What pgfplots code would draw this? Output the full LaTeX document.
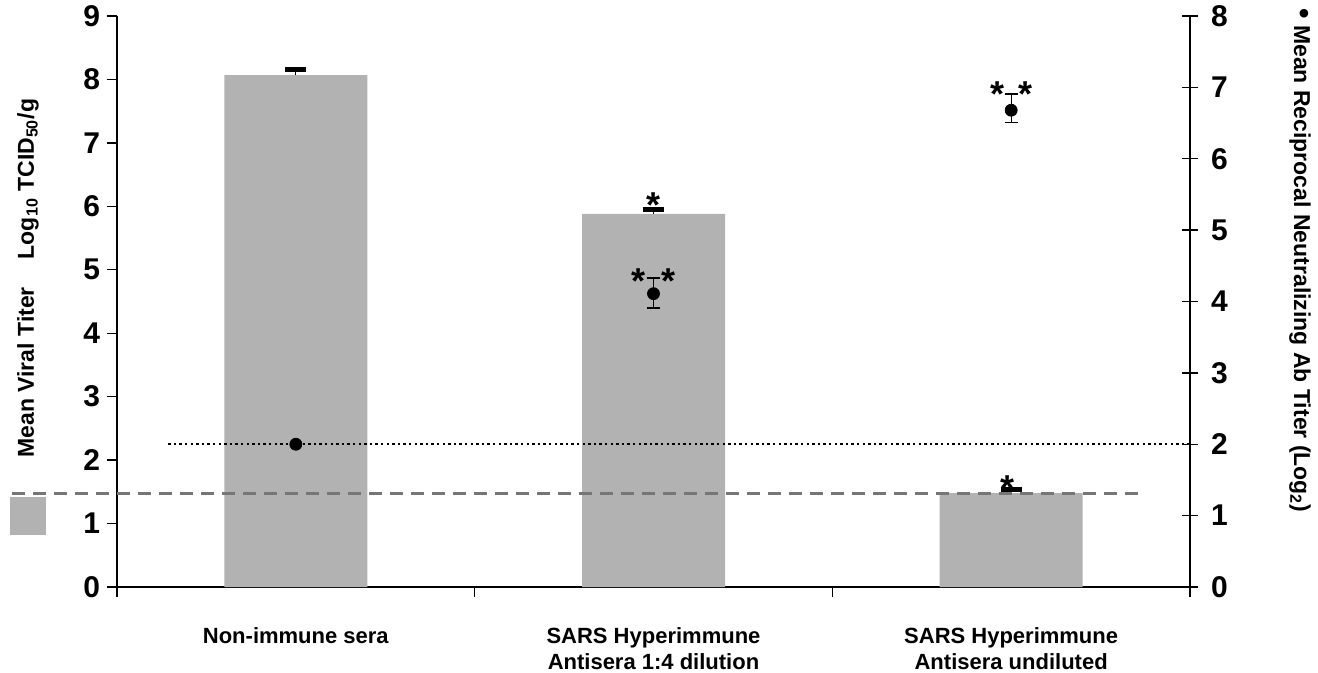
\documentclass[border=0pt]{standalone}
\usepackage{pgfplots}
\pgfplotsset{compat=1.18}
\usepackage{fontspec}
\setmainfont{Liberation Sans}
\definecolor{barcol}{RGB}{178,178,178}
\definecolor{dashcol}{RGB}{118,118,118}
\pgfplotstableread{
x y err
0.5 8.07 0.09
1.5 5.88 0.07
2.5 1.48 0.06
}\bartable
\tikzset{ast/.style={font=\fontsize{18bp}{18bp}\selectfont\bfseries, anchor=base, inner sep=0pt}}
\begin{document}
\begin{tikzpicture}
\useasboundingbox (-58.5bp,-43bp) rectangle (600.5bp,293.5bp);
\begin{axis}[
  at={(0,0)}, anchor=south west,
  scale only axis, width=536.5bp, height=285.5bp,
  xmin=0, xmax=3, ymin=0, ymax=9,
  axis x line*=bottom, axis y line*=left,
  axis line style={line width=0.8bp, -},
  xtick={0,1,2,3}, xticklabels={},
  ytick={0,...,9},
  tick style={line width=0.7bp, black},
  tick align=outside, major tick length=5bp,
  yticklabel style={font=\fontsize{15bp}{16bp}\selectfont\bfseries},
  /pgf/number format/assume math mode=true,
  extra x ticks={0.5,1.5,2.5},
  extra x tick labels={Non-immune sera, {SARS Hyperimmune\\Antisera 1:4 dilution}, {SARS Hyperimmune\\Antisera undiluted}},
  extra x tick style={major tick length=0pt, xticklabel style={align=center, font=\fontsize{11bp}{13bp}\selectfont\bfseries, yshift=-17bp}},
  clip=false,
]
\addplot[ybar, bar width=71.5bp, bar shift=0pt, fill=barcol, draw=none,
  error bars/.cd, y dir=plus, y explicit,
  error bar style={line width=0.6bp, black},
  error mark options={rotate=90, line width=2.5bp, mark size=5.2bp, black}]
  table[x=x, y=y, y error=err] {\bartable};
\addplot[dashcol, line width=1.5bp, dash pattern=on 6.5bp off 4bp] coordinates {(-0.294,1.48) (2.86,1.48)};
\node[ast] at (axis cs:1.499,5.83) {*};
\node[ast] at (axis cs:2.491,1.37) {*};
\node[ast] at (axis cs:1.457,4.63) {*};
\node[ast] at (axis cs:1.541,4.63) {*};
\node[ast] at (axis cs:2.461,7.57) {*};
\node[ast] at (axis cs:2.541,7.57) {*};
\node[rotate=90, font=\fontsize{11.5bp}{13bp}\selectfont\bfseries] at (axis description cs:-0.0829,0.541) {Mean Viral Titer\hspace{14bp}Log\textsubscript{10} TCID\textsubscript{50}/g};
\node[fill=barcol, inner sep=0pt, minimum width=18bp, minimum height=19bp] at (axis description cs:-0.0829,0.1243) {};
\end{axis}
\begin{axis}[
  at={(0,0)}, anchor=south west,
  scale only axis, width=536.5bp, height=285.5bp,
  xmin=0, xmax=3, ymin=0, ymax=8,
  axis x line=none, axis y line*=right,
  axis line style={line width=0.8bp, -},
  ytick={0,...,8},
  tick style={line width=0.7bp, black},
  tick align=center, major tick length=8bp,
  yticklabel style={font=\fontsize{15bp}{16bp}\selectfont\bfseries, xshift=3bp},
  /pgf/number format/assume math mode=true,
  clip=false,
]
\addplot[black, line width=1.2bp, dash pattern=on 1.2bp off 1.6bp] coordinates {(0.143,2) (3,2)};
\addplot[only marks, mark=*, mark size=3bp, black] coordinates {(0.5,2.0)};
\addplot[only marks, mark=*, mark size=3bp, black,
  error bars/.cd, y dir=both, y explicit,
  error bar style={line width=0.6bp, black},
  error mark options={rotate=90, line width=0.7bp, mark size=3.3bp, black}]
  coordinates {(1.5,4.11) += (0,0.22) -= (0,0.20) (2.5,6.68) += (0,0.23) -= (0,0.17)};
\node[rotate=-90, font=\fontsize{11.5bp}{13bp}\selectfont\bfseries] at (axis description cs:1.1025,0.572) {{\fontsize{15bp}{15bp}\selectfont\textbullet}\ Mean Reciprocal Neutralizing Ab Titer (Log\textsubscript{2})};
\end{axis}
\end{tikzpicture}
\end{document}
